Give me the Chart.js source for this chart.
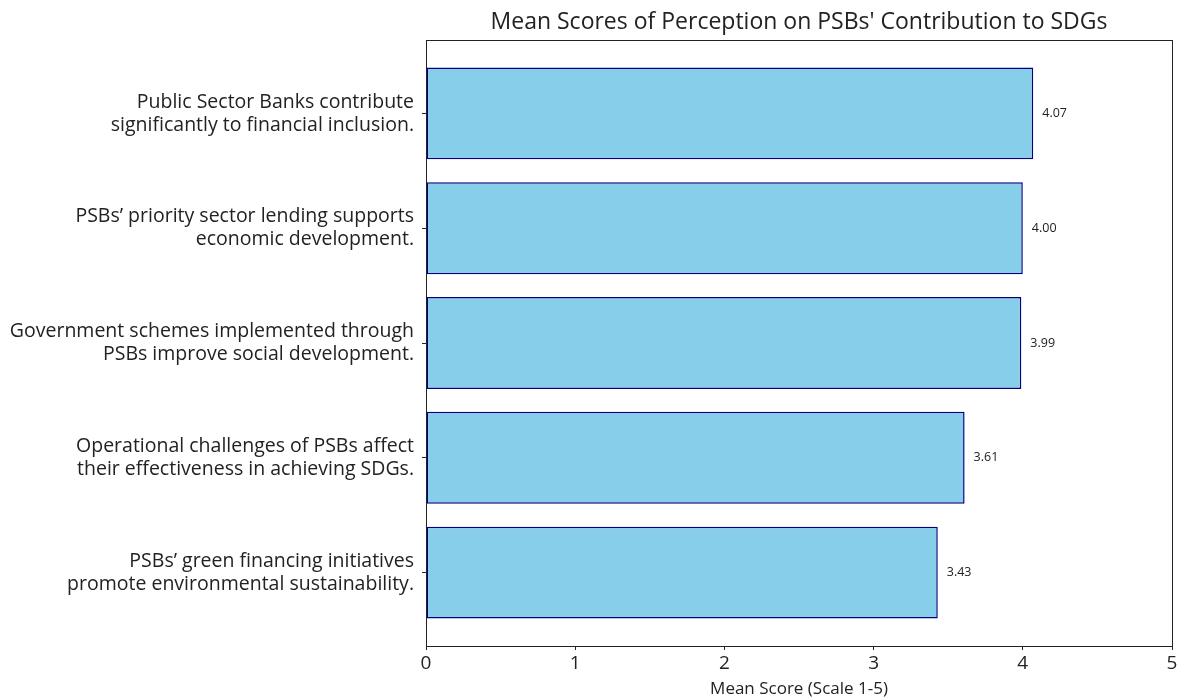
<!DOCTYPE html>
<html>
<head>
<meta charset="utf-8">
<script src="https://cdn.jsdelivr.net/npm/chart.js@4"></script>
<style>
  html, body { margin:0; padding:0; background:#fff; }
  #wrap { width:1184px; height:699px; }
</style>
</head>
<body>
<div id="wrap"><canvas id="chart" width="1184" height="699"></canvas></div>
<script>
const chartTitle = "Mean Scores of Perception on PSBs' Contribution to SDGs";
const axisTitle = "Mean Score (Scale 1-5)";

/* categories, top to bottom */
const categories = [
  ["Public Sector Banks contribute", "significantly to financial inclusion."],
  ["PSBs\u2019 priority sector lending supports", "economic development."],
  ["Government schemes implemented through", "PSBs improve social development."],
  ["Operational challenges of PSBs affect", "their effectiveness in achieving SDGs."],
  ["PSBs\u2019 green financing initiatives", "promote environmental sustainability."]
];
const meanScores = [4.07, 4.00, 3.99, 3.61, 3.43];
const xTicks = [0, 1, 2, 3, 4, 5];

const FONT = "'Open Sans', sans-serif";

/* title over plot + frame + value labels */
const extras = {
  id: 'extras',
  afterDraw(chart){
    const ctx = chart.ctx;
    const a = chart.chartArea;
    ctx.save();
    ctx.strokeStyle = '#222';
    ctx.lineWidth = 1;
    ctx.strokeRect(Math.round(a.left)+0.5, Math.round(a.top)+0.5, Math.round(a.right-a.left), Math.round(a.bottom-a.top));

    ctx.fillStyle = '#222';
    ctx.font = "23px " + FONT;
    ctx.textAlign = 'center';
    ctx.textBaseline = 'middle';
    ctx.fillText(chartTitle, (a.left + a.right)/2, 22);

    ctx.font = "12.5px " + FONT;
    ctx.textAlign = 'left';
    chart.getDatasetMeta(0).data.forEach((bar, i)=>{
      ctx.fillText(meanScores[i].toFixed(2), bar.x + 9, bar.y);
    });
    ctx.restore();
  }
};

new Chart(document.getElementById('chart'), {
  type: 'bar',
  data: {
    datasets: [{
      data: meanScores.map((v, i)=>({x: v, y: i})),
      backgroundColor: '#87CEEB',
      borderColor: '#000080',
      borderWidth: 1.5,
      borderSkipped: false,
      barPercentage: 0.8,
      categoryPercentage: 1
    }]
  },
  options: {
    indexAxis: 'y',
    responsive: false,
    animation: false,
    layout: { padding: { left: 0, right: 12, top: 40, bottom: 0 } },
    plugins: { legend: { display: false }, tooltip: { enabled: false } },
    scales: {
      x: {
        type: 'linear',
        min: 0, max: 5,
        afterBuildTicks: s => { s.ticks = xTicks.map(v=>({value: v})); },
        afterFit: s => { s.height = 53; },
        grid: { drawOnChartArea: false, drawTicks: true, tickLength: 4, color: '#222' },
        border: { display: true, color: '#222', width: 1 },
        ticks: { color: '#222', font: { family: FONT, size: 19 }, padding: 2 },
        title: { display: true, text: axisTitle, color: '#222', font: { family: FONT, size: 17 }, padding: { top: 0, bottom: 0 } }
      },
      y: {
        type: 'linear',
        offset: false,
        min: -0.64, max: 4.64,
        reverse: true,
        afterBuildTicks: s => { s.ticks = categories.map((c, i)=>({value: i})); },
        afterFit: s => { s.width = 426; },
        grid: { offset: false, drawOnChartArea: false, drawTicks: true, tickLength: 4, color: '#222' },
        border: { display: true, color: '#222', width: 1 },
        ticks: {
          color: '#222',
          font: { family: FONT, size: 19.5, lineHeight: 1.18 },
          padding: 8,
          callback: v => categories[v]
        }
      }
    }
  },
  plugins: [extras]
});
</script>
</body>
</html>
